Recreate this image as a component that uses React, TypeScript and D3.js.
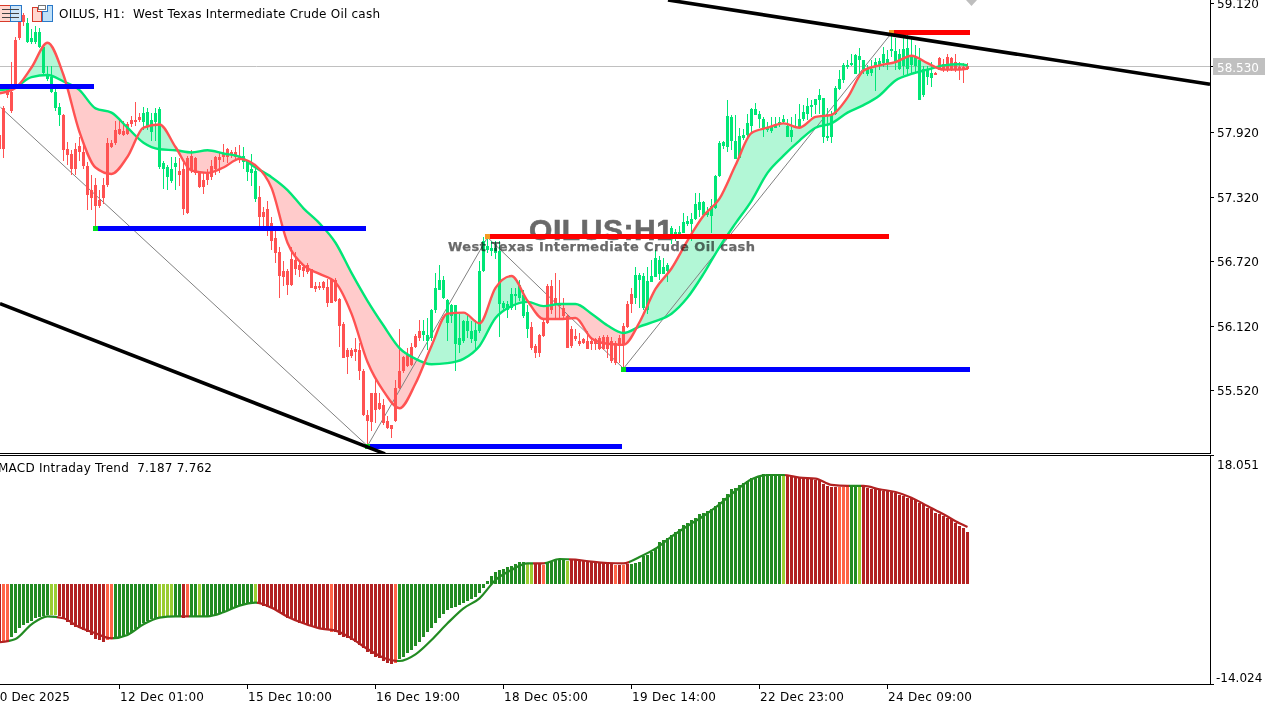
import React from "react";
import * as d3 from "d3";

const symbolHeader = "OILUS, H1:  West Texas Intermediate Crude Oil cash";
const macdHeader = "MACD Intraday Trend  7.187 7.762";
const watermarkTitle = "OILUS:H1";
const watermarkSubtitle = "West Texas Intermediate Crude Oil cash";

const priceTicks = [59.12, 57.92, 57.32, 56.72, 56.12, 55.52];
const lastPrice = 58.53;
const macdTicks = [18.051, -14.024];

const timeTickBars = [-2, 30, 62, 94, 126, 158, 190, 222];
const timeTickLabels = ["10 Dec 2025", "12 Dec 01:00", "15 Dec 10:00", "16 Dec 19:00", "18 Dec 05:00", "19 Dec 14:00", "22 Dec 23:00", "24 Dec 09:00"];

const highs = [
  58.03,58.16,58.33,58.57,58.80,59.02,59.03,58.98,58.88,58.91,
  58.89,58.73,58.53,58.53,58.33,58.19,58.09,57.83,57.75,57.82,
  57.87,57.80,57.64,57.52,57.49,57.38,57.49,57.86,57.85,58.02,
  58.04,58.02,58.01,58.07,58.20,58.10,58.15,58.14,58.10,58.14,
  58.15,57.65,57.61,57.69,57.69,57.68,57.63,57.70,57.75,57.69,
  57.56,57.54,57.58,57.66,57.70,57.73,57.81,57.77,57.75,57.78,
  57.80,57.78,57.66,57.72,57.61,57.42,57.22,57.28,57.13,57.00,
  56.85,56.72,56.65,56.85,56.80,56.71,56.68,56.70,56.65,56.52,
  56.52,56.53,56.55,56.56,56.56,56.38,56.15,55.91,55.91,56.00,
  55.96,55.72,55.33,55.49,55.61,55.49,55.44,55.28,55.19,55.61,
  56.09,55.84,55.91,55.96,56.04,56.17,56.17,56.19,56.27,56.61,
  56.68,56.58,56.37,56.32,56.31,56.23,56.17,56.23,56.16,56.17,
  56.72,56.94,56.93,56.91,56.91,56.91,56.35,56.35,56.47,56.47,
  56.54,56.45,56.31,56.15,55.95,56.04,56.17,56.51,56.54,56.61,
  56.54,56.38,56.23,56.12,56.09,56.05,56.00,56.07,56.00,56.00,
  56.02,56.03,56.03,56.01,55.98,56.03,56.14,56.35,56.47,56.66,
  56.61,56.61,56.66,56.73,56.82,56.77,56.75,56.70,57.05,57.02,
  57.05,57.17,57.14,57.17,57.35,57.35,57.28,57.22,57.30,57.52,
  57.84,57.84,58.22,58.08,58.08,57.96,57.95,58.09,58.14,58.19,
  58.12,58.06,58.01,58.06,58.06,58.06,58.08,58.04,58.06,58.09,
  58.18,58.17,58.24,58.22,58.23,58.32,58.24,58.14,58.12,58.35,
  58.50,58.56,58.59,58.65,58.65,58.70,58.59,58.54,58.59,58.61,
  58.61,58.71,58.68,58.84,58.79,58.69,58.79,58.83,58.79,58.73,
  58.70,58.53,58.53,58.57,58.48,58.62,58.60,58.65,58.62,58.65,
  58.57,58.56,58.56,
];
const bodyTops = [
  57.89,58.14,58.31,58.29,58.78,58.94,59.01,58.93,58.79,58.85,
  58.85,58.71,58.46,58.43,58.29,58.15,58.08,57.76,57.72,57.76,
  57.79,57.73,57.60,57.38,57.43,57.29,57.43,57.82,57.82,57.94,
  57.95,57.93,57.99,58.03,58.03,58.06,58.10,58.11,58.03,58.10,
  58.13,57.63,57.59,57.58,57.63,57.56,57.58,57.68,57.70,57.68,
  57.54,57.47,57.54,57.60,57.69,57.69,57.72,57.76,57.73,57.73,
  57.70,57.70,57.64,57.58,57.56,57.32,57.18,57.20,57.07,56.93,
  56.80,56.63,56.63,56.74,56.73,56.68,56.66,56.68,56.65,56.49,
  56.49,56.52,56.48,56.54,56.54,56.37,56.13,55.89,55.89,55.90,
  55.89,55.70,55.29,55.49,55.49,55.40,55.38,55.23,55.19,55.54,
  55.70,55.83,55.85,55.92,56.02,56.07,56.07,56.03,56.26,56.47,
  56.54,56.54,56.36,56.31,56.31,56.00,56.16,56.16,56.07,56.08,
  56.63,56.91,56.86,56.84,56.84,56.81,56.33,56.32,56.41,56.41,
  56.50,56.40,56.25,56.11,55.93,56.03,56.15,56.49,56.49,56.38,
  56.32,56.28,56.21,56.09,56.02,55.98,55.99,55.98,55.98,55.99,
  56.00,56.01,56.01,55.98,55.96,56.00,56.12,56.32,56.41,56.59,
  56.59,56.58,56.53,56.58,56.75,56.73,56.66,56.68,57.03,56.99,
  56.99,57.08,57.09,57.11,57.25,57.27,57.27,57.18,57.23,57.51,
  57.82,57.83,58.07,58.06,57.84,57.88,57.89,58.00,58.13,58.13,
  58.09,58.04,57.96,57.97,57.99,58.01,58.04,57.98,57.94,57.98,
  58.04,58.11,58.16,58.17,58.23,58.26,58.24,57.88,58.09,58.33,
  58.41,58.54,58.54,58.56,58.64,58.63,58.59,58.51,58.51,58.57,
  58.58,58.65,58.60,58.69,58.67,58.65,58.69,58.70,58.62,58.63,
  58.59,58.51,58.51,58.47,58.47,58.61,58.55,58.62,58.61,58.57,
  58.52,58.52,58.53,
];
const bodyBottoms = [
  57.76,57.76,58.26,58.12,58.36,58.79,58.94,58.76,58.76,58.76,
  58.71,58.47,58.41,58.29,58.14,58.08,57.75,57.71,57.58,57.58,
  57.73,57.60,57.33,57.31,57.23,57.23,57.31,57.43,57.78,57.82,
  57.90,57.89,57.90,57.99,58.01,58.03,58.01,57.98,57.92,58.01,
  57.59,57.58,57.50,57.46,57.59,57.52,57.20,57.17,57.56,57.54,
  57.41,57.41,57.47,57.50,57.58,57.66,57.69,57.69,57.72,57.69,
  57.66,57.64,57.55,57.54,57.30,57.13,57.13,57.04,56.91,56.79,
  56.58,56.57,56.50,56.50,56.65,56.64,56.63,56.62,56.47,56.46,
  56.47,56.47,56.33,56.33,56.35,56.12,55.82,55.83,55.84,55.87,
  55.70,55.29,55.23,55.22,55.33,55.34,55.21,55.17,55.16,55.23,
  55.54,55.70,55.74,55.75,55.92,56.00,56.03,55.98,56.00,56.26,
  56.45,56.38,56.14,56.21,55.95,55.94,55.98,56.07,55.99,55.98,
  56.07,56.63,56.82,56.81,56.79,56.32,56.28,56.26,56.28,56.39,
  56.38,56.21,56.09,55.91,55.86,55.86,56.02,56.14,56.26,56.31,
  56.30,56.21,55.91,55.93,55.99,55.95,55.96,55.90,55.95,55.95,
  55.90,55.90,55.90,55.79,55.77,55.93,55.94,56.11,56.32,56.38,
  56.54,56.28,56.26,56.52,56.57,56.60,56.60,56.63,56.96,56.98,
  56.99,56.98,57.06,57.06,57.11,57.19,57.15,57.15,57.14,57.21,
  57.51,57.79,57.78,57.84,57.67,57.68,57.86,57.89,57.98,58.08,
  58.04,57.95,57.95,57.93,57.96,57.99,58.01,57.87,57.87,57.97,
  57.97,58.04,58.09,58.15,58.17,58.22,57.87,57.86,57.87,58.09,
  58.32,58.40,58.52,58.54,58.46,58.59,58.51,58.46,58.47,58.52,
  58.54,58.56,58.56,58.67,58.57,58.51,58.53,58.51,58.54,58.53,
  58.22,58.26,58.43,58.42,58.46,58.50,58.50,58.50,58.50,58.50,
  58.50,58.51,58.51,
];
const lows = [
  57.68,57.68,58.24,58.10,58.34,58.78,58.91,58.75,58.74,58.74,
  58.70,58.45,58.39,58.28,58.12,57.98,57.65,57.61,57.52,57.52,
  57.65,57.58,57.19,57.19,57.02,57.21,57.25,57.41,57.77,57.80,
  57.89,57.88,57.89,57.97,57.98,58.01,57.94,57.94,57.84,57.84,
  57.58,57.39,57.38,57.45,57.38,57.42,57.15,57.16,57.54,57.52,
  57.40,57.34,57.43,57.47,57.52,57.54,57.64,57.63,57.68,57.66,
  57.63,57.58,57.46,57.42,57.27,57.04,57.04,56.95,56.82,56.70,
  56.38,56.49,56.40,56.49,56.59,56.57,56.57,56.60,56.47,56.43,
  56.45,56.45,56.29,56.33,56.34,55.92,55.82,55.67,55.82,55.79,
  55.61,55.28,55.00,55.14,55.21,55.33,55.19,55.16,55.07,55.22,
  55.53,55.68,55.73,55.74,55.91,55.98,55.98,55.89,55.98,56.24,
  56.45,56.37,55.98,56.14,55.70,55.86,55.96,56.00,55.96,55.89,
  56.05,56.62,56.79,56.77,56.74,56.01,56.26,56.19,56.26,56.26,
  56.35,56.19,56.00,55.89,55.82,55.83,56.01,56.13,56.23,56.19,
  56.19,56.17,55.91,55.91,55.98,55.93,55.95,55.90,55.89,55.89,
  55.89,55.89,55.82,55.77,55.75,55.77,55.71,56.10,56.24,56.32,
  56.28,56.26,56.23,56.52,56.57,56.54,56.60,56.52,56.88,56.91,
  56.98,56.98,57.05,56.91,57.10,57.13,57.15,57.13,56.98,57.20,
  57.50,57.76,57.73,57.75,57.67,57.68,57.85,57.87,57.92,58.08,
  57.96,57.87,57.92,57.91,57.96,57.97,57.99,57.87,57.83,57.96,
  57.96,58.02,58.03,58.06,58.09,58.09,57.82,57.84,57.82,58.08,
  58.31,58.38,58.51,58.53,58.46,58.46,58.46,58.44,58.44,58.30,
  58.50,58.52,58.50,58.62,58.50,58.50,58.45,58.45,58.45,58.46,
  58.22,58.25,58.36,58.34,58.46,58.50,58.48,58.48,58.49,58.48,
  58.40,58.38,58.50,
];

// bullish-trend stretches of bars (candles are painted by trend)
const bullishRanges = [[7, 15], [36, 44], [61, 64], [106, 132], [159, 233]];

// moving averages, one reading every fourth bar plus the last bar
const fastMA = [
  58.28,58.33,58.52,58.75,58.45,57.92,57.59,57.53,57.69,57.96,
  57.99,57.78,57.56,57.54,57.59,57.67,57.61,57.40,56.89,56.68,
  56.60,56.52,56.23,55.78,55.51,55.35,55.58,55.93,56.23,56.24,
  56.14,56.47,56.58,56.35,56.18,56.18,56.19,56.00,55.95,55.94,
  56.15,56.46,56.65,56.91,57.14,57.30,57.61,57.91,57.96,58.00,
  57.96,58.06,58.08,58.24,58.49,58.54,58.57,58.63,58.56,58.50,
  58.50,58.51,
];
const slowMA = [
  58.31,58.34,58.43,58.45,58.39,58.31,58.14,58.10,57.96,57.82,
  57.76,57.75,57.73,57.75,57.72,57.69,57.59,57.50,57.38,57.21,
  57.07,56.89,56.61,56.35,56.12,55.91,55.81,55.76,55.77,55.81,
  55.93,56.19,56.30,56.34,56.30,56.32,56.32,56.23,56.12,56.05,
  56.11,56.16,56.23,56.38,56.60,56.85,57.07,57.28,57.54,57.70,
  57.84,57.96,58.00,58.10,58.17,58.26,58.40,58.46,58.50,58.54,
  58.55,58.54,
];
const maBars = [...d3.range(0, 243, 4), 242];

const zigzagBars = [0.25, 92, 122, 156, 223];
const zigzagPrices = [58.15, 55.0, 56.94, 55.72, 58.84];

const supportBars = [[-2, 23.75], [24, 91.75], [92, 155.75], [156, 242.75]];
const supportPrices = [58.35, 57.03, 55.0, 55.72];
const resistanceBars = [[122, 222.5], [223, 242.75]];
const resistancePrices = [56.95, 58.85];
const lowPivots = [[24, 57.03], [92, 55.0], [156, 55.72]];
const highPivots = [[122, 56.95], [223, 58.85]];

const trendUpperBars = [167.25, 302.75];
const trendUpperPrices = [59.148, 58.365];
const trendLowerBars = [0.25, 96.5];
const trendLowerPrices = [56.324, 54.926];

const macdHist = [
  -8.07,-8.07,-8.07,-7.36,-6.80,-6.19,-5.72,-5.39,-5.11,-4.78,
  -4.55,-4.41,-4.31,-4.31,-4.31,-4.50,-4.88,-5.35,-5.72,-5.96,
  -6.19,-6.43,-6.66,-7.13,-7.69,-7.88,-8.07,-7.83,-7.74,-7.50,
  -7.36,-7.22,-6.99,-6.66,-6.28,-5.96,-5.49,-5.16,-4.92,-4.78,
  -4.64,-4.55,-4.50,-4.50,-4.45,-4.50,-4.78,-4.55,-4.50,-4.50,
  -4.50,-4.50,-4.50,-4.50,-4.31,-4.17,-3.94,-3.75,-3.52,-3.28,
  -3.05,-2.91,-2.72,-2.63,-2.58,-2.81,-3.00,-3.14,-3.38,-3.61,
  -3.94,-4.31,-4.69,-4.92,-5.16,-5.39,-5.58,-5.72,-5.82,-6.00,
  -6.28,-6.43,-6.43,-6.66,-6.66,-7.13,-7.36,-7.60,-7.83,-8.16,
  -8.54,-9.00,-9.57,-9.85,-10.18,-10.41,-10.79,-11.12,-11.26,-11.12,
  -10.51,-10.18,-9.71,-9.24,-8.63,-8.07,-7.36,-6.75,-6.10,-5.49,
  -4.78,-4.22,-3.61,-3.38,-3.14,-2.91,-2.58,-2.30,-2.06,-1.74,
  -1.17,-0.47,0.47,1.22,1.78,2.02,2.16,2.39,2.63,2.81,
  3.10,3.19,2.95,2.95,2.95,2.86,2.72,2.95,3.19,3.42,
  3.56,3.56,3.33,3.52,3.42,3.33,3.33,3.19,3.10,3.10,
  3.05,3.05,2.95,2.81,2.72,2.72,2.72,2.81,2.86,2.95,
  3.10,3.99,4.08,4.55,5.16,6.00,6.19,6.47,6.94,7.41,
  7.74,8.30,8.68,9.00,9.38,9.85,10.08,10.32,10.55,11.02,
  11.63,12.19,12.76,13.37,13.60,13.93,14.21,14.54,14.91,15.15,
  15.24,15.48,15.48,15.48,15.48,15.38,15.38,15.38,15.29,15.10,
  15.01,14.91,14.91,14.77,14.73,14.63,14.16,13.84,13.74,13.69,
  13.69,13.69,13.69,13.74,13.74,13.74,13.74,13.60,13.46,13.37,
  13.27,13.13,13.13,12.99,12.85,12.57,12.43,12.19,12.10,11.87,
  11.49,11.26,10.69,10.55,10.08,9.85,9.61,9.38,9.15,8.68,
  8.21,7.88,7.36,
];
const macdLine = [
  -8.16,-7.69,-5.63,-4.50,-4.78,-6.05,-6.89,-7.60,-7.13,-5.63,
  -4.69,-4.50,-4.50,-4.50,-3.94,-3.00,-2.58,-3.28,-4.55,-5.49,
  -6.19,-6.52,-7.60,-9.10,-10.32,-10.79,-9.85,-7.83,-5.49,-3.38,
  -1.97,0.61,2.02,2.95,2.95,3.56,3.47,3.19,3.00,2.95,
  3.85,5.02,6.71,8.21,9.61,11.26,13.13,14.77,15.38,15.38,
  15.00,14.87,13.98,13.84,13.84,13.37,12.99,12.19,11.02,9.85,
  8.58,8.07,
];
// first bar of each histogram colour state
const histStateStarts = [0,1,3,13,15,27,29,40,44,46,47,48,50,51,64,65,83,84,99,100,132,134,136,137,142,143,154,155,156,157,158,196,197,210,213,215,216];
const histStates = "RTGLRTGLGRTGLGLRTRTGLRTGLRTRTRGLRTGLR";

const GREEN = "#00E676";
const RED = "#FF5252";
const FOREST = "#228B22";
const YGREEN = "#9ACD32";
const FIRE = "#B22222";
const TOMATO = "#FF6347";
const histColor: Record<string, string> = { G: FOREST, L: YGREEN, R: FIRE, T: TOMATO };

const x = d3.scaleLinear().domain([0, 242]).range([-1, 967]);
const yPrice = d3.scaleLinear().domain([59.12, 55.52]).range([3, 390]);
const yMacd = d3.scaleLinear().domain([-14.024, 18.051]).range([684, 456]);

const isBull = (i: number) => bullishRanges.some(([a, b]) => i >= a && i <= b);
const stateOf = (i: number) => {
  let s = histStates[0];
  histStateStarts.forEach((st, k) => { if (i >= st) s = histStates[k]; });
  return s;
};

const FONT = "'DejaVu Sans', sans-serif";
const px = (i: number) => x(i) + 0.5;

export default function App() {
  const lineFast = d3.line<number>().x((_, k) => px(maBars[k])).y((d) => yPrice(d)).curve(d3.curveMonotoneX);
  const bandArea = d3.area<number>()
    .x((_, k) => px(maBars[k]))
    .y0((d) => yPrice(d))
    .y1((_, k) => yPrice(slowMA[k]))
    .curve(d3.curveMonotoneX);
  const aboveSlow = d3.area<number>().x((_, k) => px(maBars[k])).y0(-10).y1((d) => yPrice(d)).curve(d3.curveMonotoneX);
  const belowSlow = d3.area<number>().x((_, k) => px(maBars[k])).y0(460).y1((d) => yPrice(d)).curve(d3.curveMonotoneX);
  const lineMacd = d3.line<number>().x((_, k) => px(maBars[k])).y((d) => yMacd(d)).curve(d3.curveMonotoneX);
  const zigzag = d3.line<number>().x((d) => px(d)).y((_, k) => yPrice(zigzagPrices[k]));
  const gradX0 = x(0);
  const gradX1 = x(242) + 1;
  const stops: React.ReactElement[] = [];
  macdHist.forEach((_, i) => {
    const s = stateOf(i);
    const c = s === "G" || s === "L" ? FOREST : FIRE;
    const a = (x(i) - 2 - gradX0) / (gradX1 - gradX0);
    const b = (x(i) + 2 - gradX0) / (gradX1 - gradX0);
    stops.push(<stop key={`a${i}`} offset={Math.max(0, a)} stopColor={c} />);
    stops.push(<stop key={`b${i}`} offset={Math.min(1, b)} stopColor={c} />);
  });

  return (
    <svg width={1279} height={705} style={{ position: "absolute", left: 0, top: 0, background: "#fff", display: "block" }} fontFamily={FONT}>
      <defs>
        <clipPath id="main"><rect x={0} y={0} width={1210} height={453} /></clipPath>
        <clipPath id="above"><path d={aboveSlow(slowMA) || ""} /></clipPath>
        <clipPath id="below"><path d={belowSlow(slowMA) || ""} /></clipPath>
        <linearGradient id="macdGrad" gradientUnits="userSpaceOnUse" x1={gradX0} x2={gradX1} y1={0} y2={0}>{stops}</linearGradient>
      </defs>

      <g clipPath="url(#main)">
        <line x1={0} x2={1210} y1={Math.round(yPrice(lastPrice)) + 0.5} y2={Math.round(yPrice(lastPrice)) + 0.5} stroke="#C0C0C0" />
        <g clipPath="url(#above)"><path d={bandArea(fastMA) || ""} fill={GREEN} fillOpacity={0.3} /></g>
        <g clipPath="url(#below)"><path d={bandArea(fastMA) || ""} fill={RED} fillOpacity={0.3} /></g>

        <text x={529} y={239.5} fontFamily="'Liberation Sans', Arial, sans-serif" fontWeight="bold" fontSize={30} fill="#696969" stroke="#696969" strokeWidth={0.6} textLength={144} lengthAdjust="spacing">{watermarkTitle}</text>
        <path d={zigzag(zigzagBars) || ""} fill="none" stroke="#808080" strokeWidth={1} />

        <g shapeRendering="crispEdges">
          {highs.map((h, i) => {
            const c = isBull(i) ? GREEN : RED;
            const t = Math.round(yPrice(bodyTops[i]));
            const b = Math.round(yPrice(bodyBottoms[i]));
            const hi = Math.round(yPrice(h));
            const lo = Math.round(yPrice(lows[i]));
            return (
              <g key={i} fill={c}>
                <rect x={x(i)} y={hi} width={1} height={Math.max(1, lo - hi)} />
                <rect x={x(i) - 1} y={t} width={3} height={Math.max(2, b - t)} />
              </g>
            );
          })}
        </g>

        <g fill="none" strokeWidth={2.4}>
          <path d={lineFast(slowMA) || ""} stroke={GREEN} />
          <path d={lineFast(fastMA) || ""} stroke={RED} />
        </g>

        <text x={448} y={251} fontFamily="'DejaVu Sans', sans-serif" fontWeight="bold" fontSize={13} fill="#696969" stroke="#696969" strokeWidth={0.25} textLength={307} lengthAdjust="spacing" style={{ mixBlendMode: "multiply" }}>{watermarkSubtitle}</text>

        <g shapeRendering="crispEdges">
          {supportBars.map(([a, b], k) => (
            <rect key={k} x={x(a)} width={x(b) - x(a)} y={Math.round(yPrice(supportPrices[k])) - 2} height={5} fill="#0000FF" />
          ))}
          {resistanceBars.map(([a, b], k) => (
            <rect key={k} x={x(a)} width={x(b) - x(a)} y={Math.round(yPrice(resistancePrices[k])) - 2} height={5} fill="#FF0000" />
          ))}
        </g>
        <g shapeRendering="crispEdges">
          {lowPivots.map(([b, p], k) => (
            <rect key={k} x={x(b) - 2} y={Math.round(yPrice(p)) - 2} width={5} height={5} fill="#00E020" />
          ))}
          {highPivots.map(([b, p], k) => (
            <rect key={k} x={x(b) - 2} y={Math.round(yPrice(p)) - 2} width={5} height={5} fill="#F59A23" />
          ))}
        </g>

        <line x1={x(trendUpperBars[0])} x2={x(trendUpperBars[1])} y1={yPrice(trendUpperPrices[0])} y2={yPrice(trendUpperPrices[1])} stroke="#000" strokeWidth={3.6} />
        <line x1={x(trendLowerBars[0])} x2={x(trendLowerBars[1])} y1={yPrice(trendLowerPrices[0])} y2={yPrice(trendLowerPrices[1])} stroke="#000" strokeWidth={3.6} />
        <polygon points={`${x(241.75)},0 ${x(241.75) + 11},0 ${x(241.75) + 5.5},6`} fill="#BEBEBE" />
      </g>

      {/* header icons */}
      <g shapeRendering="crispEdges">
        <rect x={-1.5} y={5.5} width={12} height={16} fill="#FFD8D0" stroke="#D83A2A" />
        <rect x={10.5} y={5.5} width={11} height={16} fill="#CFE6F8" stroke="#2A78C8" />
        {[9, 13, 17].map((yy) => <rect key={yy} x={2} y={yy} width={17} height={1} fill="#444" />)}
        <path d="M32.5 7.5 H37.5 V11.5 H41.5 V21.5 H32.5 Z" fill="#FFD8D0" stroke="#D83A2A" />
        <rect x={38.5} y={5.5} width={7} height={4} fill="#fff" stroke="#777" />
        <path d="M42.5 21.5 V11.5 H47.5 V5.5 H52.5 V21.5 Z" fill="#BFE0F8" stroke="#2A78C8" />
      </g>
      <text x={59} y={18} fontSize={12} fill="#000" textLength={321} lengthAdjust="spacing" style={{ whiteSpace: "pre" }}>{symbolHeader}</text>

      {/* MACD pane */}
      <g shapeRendering="crispEdges">
        {macdHist.map((v, i) => {
          const y0 = Math.round(yMacd(0));
          const y1 = Math.round(yMacd(v));
          return <rect key={i} x={x(i) - 1} width={3} y={Math.min(y0, y1)} height={Math.max(1, Math.abs(y1 - y0))} fill={histColor[stateOf(i)]} />;
        })}
      </g>
      <path d={lineMacd(macdLine) || ""} fill="none" stroke="url(#macdGrad)" strokeWidth={2.2} />
      <text x={-2} y={472} fontSize={12} fill="#000" textLength={214} lengthAdjust="spacing" style={{ whiteSpace: "pre" }}>{macdHeader}</text>

      {/* frame */}
      <g shapeRendering="crispEdges" stroke="#000" strokeWidth={1}>
        <line x1={0} x2={1210} y1={453.5} y2={453.5} />
        <line x1={0} x2={1214} y1={455.5} y2={455.5} />
        <line x1={0} x2={1214} y1={684.5} y2={684.5} />
        <line x1={1210.5} x2={1210.5} y1={0} y2={454} />
        <line x1={1210.5} x2={1210.5} y1={455} y2={685} />
        {priceTicks.map((p) => (
          <line key={p} x1={1210} x2={1214} y1={Math.round(yPrice(p)) + 0.5} y2={Math.round(yPrice(p)) + 0.5} />
        ))}
        <line x1={1210} x2={1214} y1={66.5} y2={66.5} />
        {timeTickBars.map((b) => (
          <line key={b} x1={x(b) + 0.5} x2={x(b) + 0.5} y1={685} y2={689} />
        ))}
      </g>

      {priceTicks.map((p) => (
        <text key={p} x={1217} y={Math.round(yPrice(p)) + 5} fontSize={12} fill="#000">{p.toFixed(3)}</text>
      ))}
      <rect x={1213} y={58} width={52} height={17} fill="#C0C0C0" shapeRendering="crispEdges" />
      <text x={1217} y={71.5} fontSize={12} fill="#fff">{lastPrice.toFixed(3)}</text>

      {macdTicks.map((v, k) => (
        <text key={v} x={v < 0 ? 1216 : 1217} y={k === 0 ? 468.5 : 681.5} fontSize={12} fill="#000">{v.toFixed(3)}</text>
      ))}

      {timeTickLabels.map((t, k) => (
        <text key={t} x={x(timeTickBars[k]) + 1} y={701} fontSize={12} fill="#000" textLength={k === 0 ? 78 : 84} lengthAdjust="spacing">{t}</text>
      ))}
    </svg>
  );
}
